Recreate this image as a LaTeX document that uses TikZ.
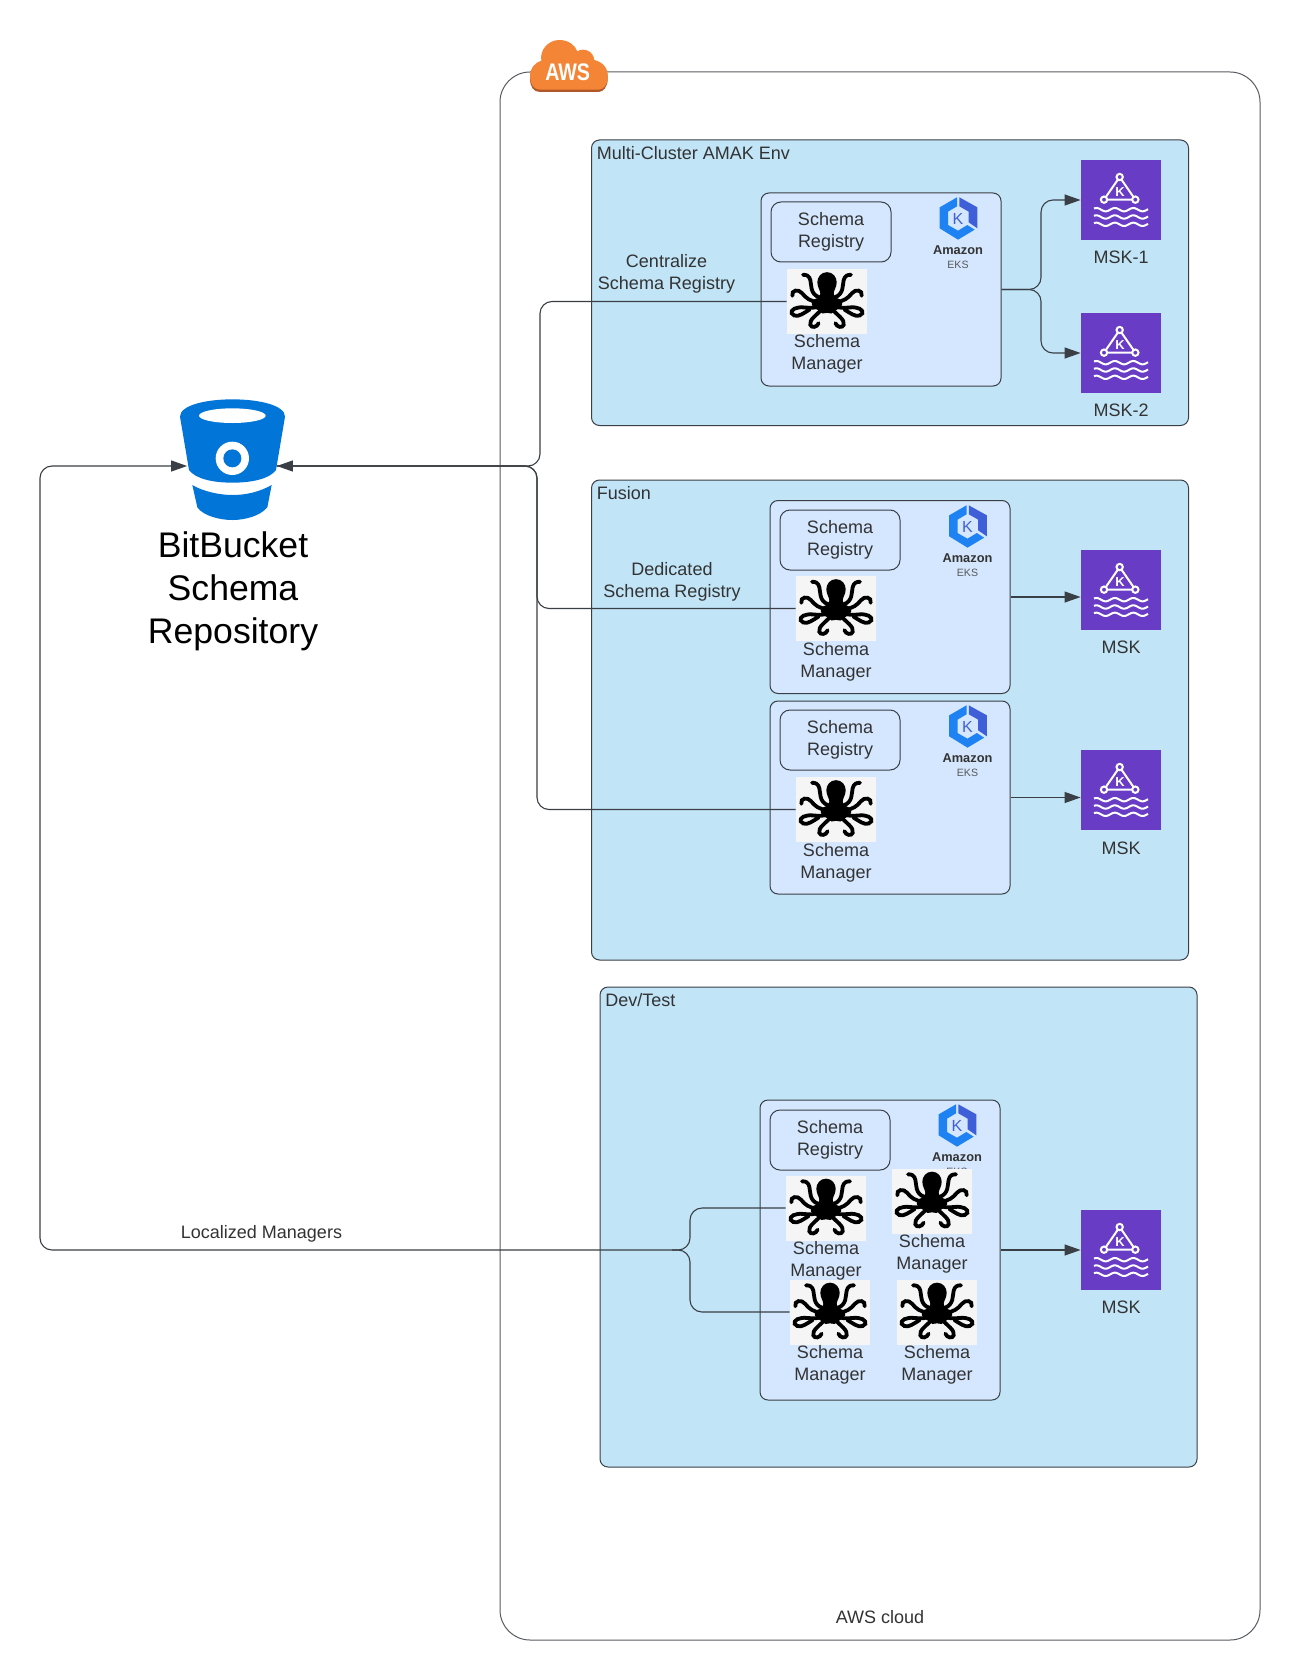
\documentclass[tikz,border=0pt]{standalone}
\usepackage{fontspec}
\setmainfont{Liberation Sans}
\usetikzlibrary{arrows.meta}
\definecolor{linec}{HTML}{3A3F45}
\definecolor{txtc}{HTML}{333333}
\definecolor{contc}{HTML}{C1E4F7}
\definecolor{innerc}{HTML}{D4E7FE}
\definecolor{mskc}{HTML}{693CC5}
\definecolor{awsc}{HTML}{F58536}
\definecolor{awsd}{HTML}{B0582A}
\definecolor{bbc}{HTML}{0275D8}
\definecolor{eksa}{HTML}{1E82F2}
\definecolor{eksb}{HTML}{3F5FD8}
\tikzset{
  cont/.style={draw=linec,line width=.5pt,fill=contc,rounded corners=4pt,inner sep=0pt,minimum width=298.5pt},
  awsbox/.style={draw=linec!85,line width=.5pt,fill=white,rounded corners=15pt,inner sep=0pt,minimum width=380pt,minimum height=784pt},
  innerbox/.style={draw=linec,line width=.5pt,fill=innerc,rounded corners=4pt,inner sep=0pt,minimum width=120pt},
  regbox/.style={draw=linec,line width=.5pt,fill=innerc,rounded corners=5pt,inner sep=0pt,minimum width=60pt,minimum height=30pt,align=center,txt},
  txt/.style={text=txtc,font=\fontsize{9}{11}\selectfont,align=center,inner sep=0pt},
  octobox/.style={fill=white!96!black,inner sep=0pt,minimum width=40pt,minimum height=32.5pt},
  mskbox/.style={fill=mskc,inner sep=0pt,minimum width=40pt,minimum height=40pt},
  conn/.style={draw=linec,line width=.55pt,rounded corners=6pt},
  tip/.style={-{Triangle[length=8pt,width=5.5pt,fill=linec]}},
  octo/.pic={
    \begin{scope}[x=.16667pt,y=-.16667pt]
      \foreach \s in {1,-1}{
        \begin{scope}[xscale=\s]
          \fill[black] (0,-88) .. controls (-18,-88) and (-29,-73) .. (-29,-58) .. controls (-29,-42) and (-20,-34) .. (-20,-24)
             .. controls (-20,-12) and (-34,-8) .. (-44,-4) .. controls (-48,8) and (-45,14) .. (-38,20)
             .. controls (-30,24) and (-22,28) .. (-14,36) -- (0,34) -- cycle;
          \begin{scope}[draw=black,line width=1.9pt,line cap=round,fill=none]
            \draw (-22,-12) .. controls (-52,-22) and (-46,-50) .. (-50,-64) .. controls (-53,-77) and (-62,-81) .. (-72,-80);
            \draw (-25,2) .. controls (-50,0) and (-63,-10) .. (-75,-25) .. controls (-85,-38) and (-108,-35) .. (-104,-17);
            \draw (-22,12) .. controls (-40,25) and (-70,15) .. (-85,18) .. controls (-105,20) and (-115,35) .. (-98,42) .. controls (-85,47) and (-70,35) .. (-52,24);
            \draw (-14,22) .. controls (-30,40) and (-55,55) .. (-50,70) .. controls (-47,80) and (-30,78) .. (-25,65);
          \end{scope}
        \end{scope}
      }
    \end{scope}
  },
  mskicon/.pic={
    \begin{scope}[x=.16667pt,y=-.16667pt]
      \draw[white,line width=1pt,line join=round] (-4,-69) -- (-51,-1) -- (43,-1) -- cycle;
      \foreach \c in {(-4,-69),(-51,-1),(43,-1)}
        \draw[white,line width=1pt,fill=mskc] \c circle (9.5);
      \node[text=white,inner sep=0pt,font=\fontsize{6.5}{6.5}\selectfont\bfseries] (-k) at (-3,-24) {K};
      \foreach \w in {29,51,73}
        \draw[white,line width=1pt] plot[domain=-81:81,samples=45,smooth] (\x,{\w+5*sin(\x*6.5+30)});
    \end{scope}
  },
  eks/.pic={
    \begin{scope}[x=.16667pt,y=-.16667pt]
      \fill[eksa] (-3,-65) -- (-55,-35) -- (-55,28) -- (0,62) -- (50,32) -- (28,18) -- (0,35) -- (-30,18) -- (-30,-22) -- (-3,-38) -- cycle;
      \fill[eksb] (4,-65) -- (58,-35) -- (58,28) -- (32,10) -- (32,-22) -- (4,-38) -- cycle;
      \node[text=eksb,inner sep=0pt,font=\fontsize{8}{8}\selectfont] (-k) at (0,-1) {K};
      \node[text=black!80,inner sep=0pt,font=\fontsize{6.4}{6.4}\selectfont\bfseries] (-a) at (0,93) {Amazon};
      \node[text=black!65,inner sep=0pt,font=\fontsize{5.3}{5.3}\selectfont] (-e) at (0,138) {EKS};
    \end{scope}
  }
}
\begin{document}
\begin{tikzpicture}[x=.5pt,y=-.5pt]
\useasboundingbox (0,0) rectangle (1300,1680);
\fill[white] (0,0) rectangle (1300,1680);
% AWS frame
\node[awsbox] (aws) at (880,856) {};
% AWS cloud
\begin{scope}[shift={(520,30)},x=.16667pt,y=-.16667pt]
  \fill[awsd] (60,186) .. controls (40,186) and (30,170) .. (30,145) .. controls (30,118) and (45,100) .. (64,95) -- (230,95) .. controls (255,105) and (265,125) .. (263,148) .. controls (263,170) and (250,186) .. (235,186) -- cycle;
  \fill[awsc] (60,179) .. controls (40,179) and (30,160) .. (30,140) .. controls (30,115) and (45,97) .. (64,92)
    .. controls (58,60) and (85,30) .. (118,30) .. controls (145,30) and (165,45) .. (172,64)
    .. controls (190,52) and (220,62) .. (223,90) .. controls (250,97) and (265,115) .. (263,143)
    .. controls (263,165) and (250,179) .. (235,179) -- cycle;
\end{scope}
\node[text=white,inner sep=0pt,font=\fontsize{12}{12}\selectfont\bfseries] (awslabel) at (567.7,72) {\scalebox{.82}[1]{AWS}};
% Containers
\node[cont,minimum height=142.75pt] (multi) at (890,282.75) {};
\node[cont,minimum height=240pt] (fusion) at (890,720) {};
\node[cont,minimum height=240pt] (devtest) at (898.5,1227) {};
\node[txt,anchor=west] (multil) at (596.5,153) {Multi-Cluster AMAK Env};
\node[txt,anchor=west] (fusl) at (596.5,493) {Fusion};
\node[txt,anchor=west] (devl) at (605,1000) {Dev/Test};
% Inner boxes
\node[innerbox,minimum height=96.5pt] (k1) at (881,289.5) {};
\node[innerbox,minimum height=96.5pt] (k2) at (890,597) {};
\node[innerbox,minimum height=96.5pt] (k3) at (890,797.5) {};
\node[innerbox,minimum height=150pt] (k4) at (880,1250) {};
% Registries
\node[regbox] (r1) at (831,232) {Schema\\Registry};
\node[regbox] (r2) at (840,540) {Schema\\Registry};
\node[regbox] (r3) at (840,740) {Schema\\Registry};
\node[regbox] (r4) at (830,1140) {Schema\\Registry};
% EKS icons
\pic (e1) at (958,219) {eks};
\pic (e2) at (967.5,527) {eks};
\pic (e3) at (967.5,727) {eks};
\pic (e4) at (957,1126) {eks};
% Octopus boxes
\node[octobox] (o1) at (827,301.5) {};
\node[octobox] (o2) at (836,608.5) {};
\node[octobox] (o3) at (836,809.5) {};
\node[octobox] (o41) at (826,1208) {};
\node[octobox] (o42) at (932,1201) {};
\node[octobox] (o43) at (830,1312) {};
\node[octobox] (o44) at (937,1312) {};
\foreach \n in {o1,o2,o3,o41,o42,o43,o44} \pic at (\n.center) {octo};
\node[txt] (s1) at (827,354) {Schema\\Manager};
\node[txt] (s2) at (836,662) {Schema\\Manager};
\node[txt] (s3) at (836,862.5) {Schema\\Manager};
\node[txt] (s41) at (826,1260.5) {Schema\\Manager};
\node[txt] (s42) at (932,1253.5) {Schema\\Manager};
\node[txt] (s43) at (830,1365) {Schema\\Manager};
\node[txt] (s44) at (937,1365) {Schema\\Manager};
% MSK
\node[mskbox] (m1) at (1121,200) {};
\node[mskbox] (m2) at (1121,353) {};
\node[mskbox] (m3) at (1121,590) {};
\node[mskbox] (m4) at (1121,790) {};
\node[mskbox] (m5) at (1121,1250) {};
\foreach \n in {m1,m2,m3,m4,m5} \pic at (\n.center) {mskicon};
\node[txt] (ml1) at (1121,257) {MSK-1};
\node[txt] (ml2) at (1121,410) {MSK-2};
\node[txt] (ml3) at (1121,647) {MSK};
\node[txt] (ml4) at (1121,848) {MSK};
\node[txt] (ml5) at (1121,1307) {MSK};
% Bitbucket
\begin{scope}[shift={(170,390)},x=.16667pt,y=-.16667pt]
  \fill[bbc] (30,80) .. controls (30,45) and (110,28) .. (187,28) .. controls (265,28) and (345,45) .. (345,80)
     -- (318,240) .. controls (300,265) and (250,278) .. (187,278) .. controls (125,278) and (75,265) .. (57,240) -- cycle;
  \fill[white] (187,77) ellipse [x radius=100,y radius=22];
  \fill[white] (187,205) circle (50);
  \fill[bbc] (187,205) circle (27);
  \fill[bbc] (67,285) .. controls (100,305) and (150,315) .. (187,315) .. controls (230,315) and (270,305) .. (305,285)
     -- (292,352) .. controls (270,378) and (225,390) .. (187,390) .. controls (150,390) and (100,378) .. (82,352) -- cycle;
\end{scope}
\node[inner sep=0pt,minimum width=44.5pt,minimum height=4pt] (bb) at (232,466) {};
\node[align=center,inner sep=0pt,text=black,font=\fontsize{17.8}{21.5}\selectfont] (bbl) at (233,591) {BitBucket\\Schema\\Repository};
% Connector junctions
\coordinate (ja) at (540,466);
\coordinate (jb) at (537,466);
\coordinate (jr1) at (1041,289.5);
\coordinate (jl) at (690,1250);
\coordinate (jlt) at (672,1250);
\coordinate (far) at (40,1250);
\coordinate (fartop) at (40,466);
% Connectors
\draw[conn,tip] (o1.west) -| (ja) -- (bb.east);
\draw[conn] (o2.west) -| (jb) -- (bb.east);
\draw[conn] (o3.west) -| (jb) -- (bb.east);
\draw[conn,tip] (k1.east) -- (jr1) |- (m1.west);
\draw[conn,tip] (k1.east) -- (jr1) |- (m2.west);
\draw[conn,tip] (k2.east) -- (k2.east -| m3.west);
\draw[conn,tip] (k3.east) -- (k3.east -| m4.west);
\draw[conn,tip] (k4.east) -- (m5.west);
\draw[conn] (o43.west) -| (jl) -- (jlt);
\draw[conn,tip] (o41.west) -| (jl) -- (far) -- (fartop) -- (bb.west);
% Labels
\node[txt] (lc) at (666.5,273.5) {Centralize\\Schema Registry};
\node[txt] (ld) at (672,581.5) {Dedicated\\Schema Registry};
\node[txt] (ll) at (261.5,1233.5) {Localized Managers};
\node[txt] (lcl) at (880,1617) {AWS cloud};
\end{tikzpicture}
\end{document}
